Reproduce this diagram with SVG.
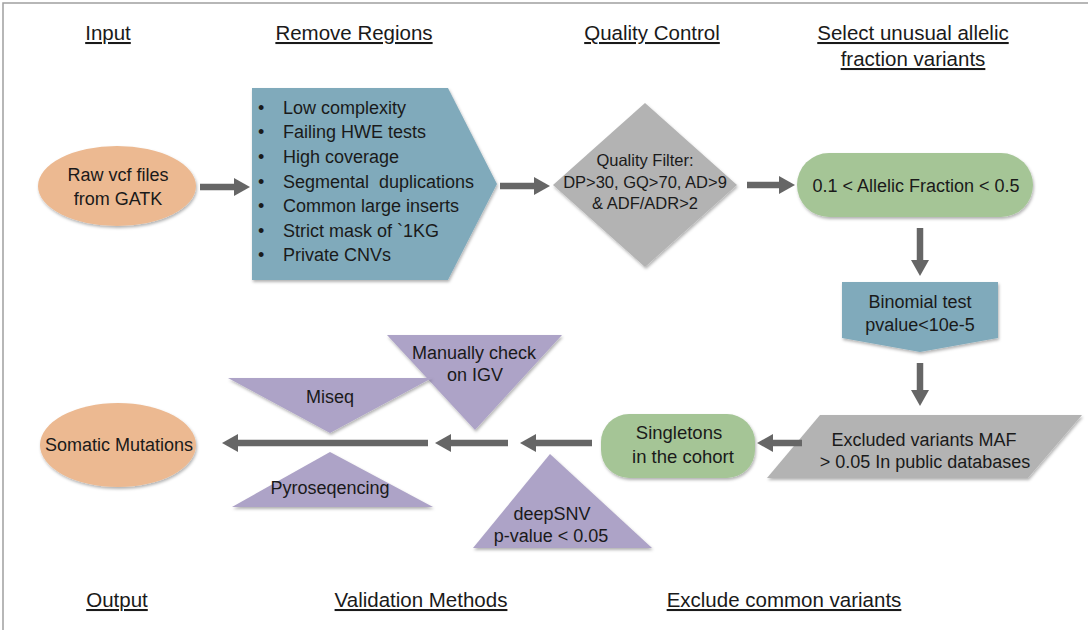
<svg xmlns="http://www.w3.org/2000/svg" width="1088" height="630" viewBox="0 0 1088 630">
<style>
text{font-family:"Liberation Sans",Arial,sans-serif;fill:#1a1a1a;text-anchor:middle}
.hd{font-size:20.5px;text-decoration:underline}
.t{font-size:18px}
.li{font-size:18px;text-anchor:start;white-space:pre}
.orange{fill:#ecb991}
.teal{fill:#80aabb}
.gray{fill:#b3b3b3}
.green{fill:#a5c596}
.purple{fill:#ada3c7}
.sh{filter:url(#ds)}
.conn line{stroke:#666;stroke-width:6.5;marker-end:url(#ah)}
</style>
<defs>
<filter id="ds" x="-10%" y="-10%" width="120%" height="130%">
<feDropShadow dx="1" dy="2" stdDeviation="1.5" flood-color="#000" flood-opacity="0.3"/>
</filter>
<marker id="ah" markerUnits="userSpaceOnUse" viewBox="0 0 16 18" refX="0" refY="9" markerWidth="16" markerHeight="18" orient="auto">
<path d="M0,0 L16,9 L0,18 z" fill="#666"/>
</marker>
</defs>
<rect width="1088" height="630" fill="#fff"/>
<path d="M3,640 V3 H1088" fill="none" stroke="#a0a0a0" stroke-width="1.5"/>

<g id="headers">
<text class="hd" x="108" y="40">Input</text>
<text class="hd" x="354" y="40">Remove Regions</text>
<text class="hd" x="652" y="40">Quality Control</text>
<text class="hd" x="913" y="40">Select unusual allelic</text>
<text class="hd" x="913" y="66">fraction variants</text>
<text class="hd" x="117" y="607">Output</text>
<text class="hd" x="421" y="607">Validation Methods</text>
<text class="hd" x="784" y="607">Exclude common variants</text>
</g>

<g id="raw">
<ellipse class="orange sh" cx="117" cy="186" rx="79" ry="40"/>
<text class="t" x="118" y="181">Raw vcf files</text>
<text class="t" x="118" y="205">from GATK</text>
</g>

<g id="remove">
<polygon class="teal sh" points="252,88 448,88 497,184 448,280 252,280"/>
<g class="li">
<text class="li" x="258" y="114">•</text><text class="li" x="283" y="114">Low complexity</text>
<text class="li" x="258" y="138">•</text><text class="li" x="283" y="138">Failing HWE tests</text>
<text class="li" x="258" y="163">•</text><text class="li" x="283" y="163">High coverage</text>
<text class="li" x="258" y="188">•</text><text class="li" x="283" y="188">Segmental  duplications</text>
<text class="li" x="258" y="212">•</text><text class="li" x="283" y="212">Common large inserts</text>
<text class="li" x="258" y="237">•</text><text class="li" x="283" y="237">Strict mask of `1KG</text>
<text class="li" x="258" y="261">•</text><text class="li" x="283" y="261">Private CNVs</text>
</g>
</g>

<g id="quality">
<polygon class="gray sh" points="645,103 737,185 645,267 553,185"/>
<text x="645" y="166" style="font-size:16.5px">Quality Filter:</text>
<text x="645" y="188" style="font-size:16.5px">DP&gt;30, GQ&gt;70, AD&gt;9</text>
<text x="645" y="209" style="font-size:16.5px">&amp; ADF/ADR&gt;2</text>
</g>

<g id="allelic">
<rect class="green sh" x="797" y="153" width="236" height="64" rx="32"/>
<text class="t" x="916" y="192">0.1 &lt; Allelic Fraction &lt; 0.5</text>
</g>

<g id="binomial">
<polygon class="teal sh" points="842,282 998,282 998,338 920,352 842,338"/>
<text class="t" x="920" y="308">Binomial test</text>
<text class="t" x="920" y="331">pvalue&lt;10e-5</text>
</g>

<g id="excluded">
<polygon class="gray sh" points="820,415 1082,415 1028,478 767,478"/>
<text class="t" x="924" y="446">Excluded variants MAF</text>
<text class="t" x="925" y="468">&gt; 0.05 In public databases</text>
</g>

<g id="singletons">
<rect class="green sh" x="601" y="414" width="154" height="64" rx="28"/>
<text class="t" x="679" y="439" style="font-size:18.5px">Singletons</text>
<text class="t" x="683" y="463" style="font-size:18.5px">in the cohort</text>
</g>

<g id="deepsnv">
<polygon class="purple sh" points="550,454 652,548 473,548"/>
<text class="t" x="552" y="520">deepSNV</text>
<text class="t" x="551" y="542">p-value &lt; 0.05</text>
</g>

<g id="igv">
<polygon class="purple sh" points="387,335 562,335 475,430"/>
<text class="t" x="474" y="359">Manually check</text>
<text class="t" x="475" y="381">on IGV</text>
</g>

<g id="miseq">
<polygon class="purple sh" points="228,378 432,378 330,433"/>
<text class="t" x="330" y="403">Miseq</text>
</g>

<g id="pyro">
<polygon class="purple sh" points="330,452 433,507 232,507"/>
<text class="t" x="330" y="494">Pyroseqencing</text>
</g>

<g id="somatic">
<ellipse class="orange sh" cx="118" cy="445" rx="78" ry="42"/>
<text class="t" x="119" y="451">Somatic Mutations</text>
</g>

<g id="connectors" class="conn">
<line x1="200" y1="187" x2="234" y2="187"/>
<line x1="500" y1="186" x2="534" y2="186"/>
<line x1="747" y1="185" x2="779" y2="185"/>
<line x1="920" y1="228" x2="920" y2="260"/>
<line x1="920" y1="363" x2="920" y2="390"/>
<line x1="802" y1="443" x2="773" y2="443"/>
<line x1="592" y1="443" x2="536" y2="443"/>
<line x1="508" y1="443" x2="451" y2="443"/>
<line x1="428" y1="443" x2="238" y2="443"/>
</g>
</svg>
